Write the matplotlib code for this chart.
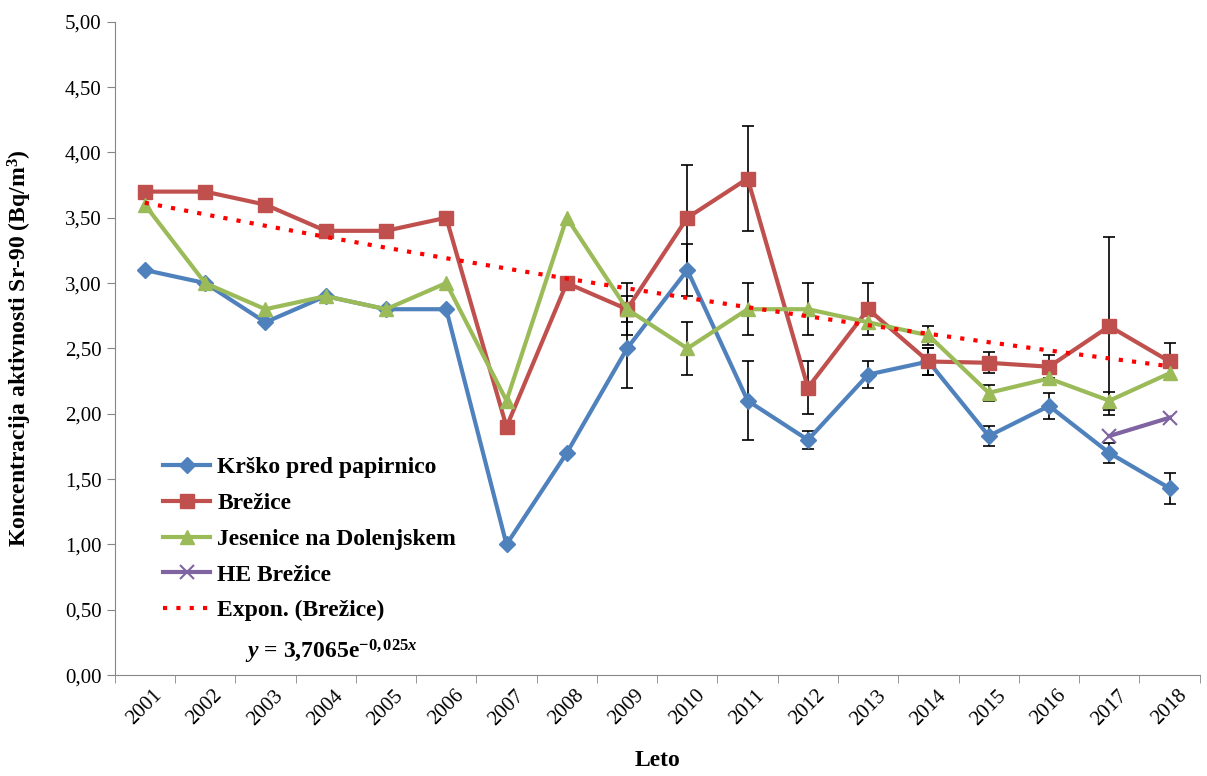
import numpy as np
import matplotlib.pyplot as plt
from matplotlib.ticker import FuncFormatter, FixedLocator

plt.rcParams['font.family'] = ['Liberation Serif', 'DejaVu Serif']
plt.rcParams['mathtext.fontset'] = 'custom'
plt.rcParams['mathtext.rm'] = 'Liberation Serif'
plt.rcParams['mathtext.it'] = 'Liberation Serif:italic'
plt.rcParams['mathtext.bf'] = 'Liberation Serif:bold'
plt.rcParams['mathtext.bfit'] = 'Liberation Serif:bold:italic'

years = [str(y) for y in range(2001, 2019)]
krsko = [3.1, 3.0, 2.7, 2.9, 2.8, 2.8, 1.0, 1.7, 2.5, 3.1, 2.1, 1.8, 2.3, 2.4, 1.83, 2.06, 1.70, 1.43]
brezice = [3.7, 3.7, 3.6, 3.4, 3.4, 3.5, 1.9, 3.0, 2.8, 3.5, 3.8, 2.2, 2.8, 2.4, 2.39, 2.36, 2.67, 2.40]
jesenice = [3.6, 3.0, 2.8, 2.9, 2.8, 3.0, 2.1, 3.5, 2.8, 2.5, 2.8, 2.8, 2.7, 2.6, 2.16, 2.27, 2.10, 2.31]
he_years = ['2017', '2018']
he_brezice = [1.83, 1.97]

nan = np.nan
krsko_err = [nan] * 8 + [0.3, 0.2, 0.3, 0.07, 0.1, 0.1, 0.08, 0.1, 0.08, 0.12]
brezice_err = [nan] * 8 + [0.1, 0.4, 0.4, 0.2, 0.2, 0.1, 0.08, 0.09, 0.68, 0.14]
jesenice_err = [nan] * 8 + [0.2, 0.2, 0.2, 0.2, 0.05, 0.07, 0.06, 0.05, 0.07, 0.05]

# exponential trend for Brežice
trend_a, trend_b = 3.7065, -0.025

fig, ax = plt.subplots(figsize=(12.07, 7.76), dpi=100)
fig.subplots_adjust(left=0.095, right=0.994, top=0.972, bottom=0.130)

x = np.arange(len(years))
blue, red, green, purple = '#4F81BD', '#C0504D', '#9BBB59', '#8064A2'

for vals, err in [(krsko, krsko_err), (brezice, brezice_err), (jesenice, jesenice_err)]:
    ax.errorbar(x, vals, yerr=err, fmt='none', ecolor='black', elinewidth=1.2,
                capsize=4, capthick=1.2, zorder=2)

ax.plot(x, krsko, color=blue, lw=3, marker='D', ms=8, label='Krško pred papirnico', zorder=3)
ax.plot(x, brezice, color=red, lw=3, marker='s', ms=10, label='Brežice', zorder=3)
ax.plot(x, jesenice, color=green, lw=3, marker='^', ms=10, label='Jesenice na Dolenjskem', zorder=3)
hx = [years.index(y) for y in he_years]
ax.plot(hx, he_brezice, color=purple, lw=3, marker='x', ms=10, mew=1.5, label='HE Brežice', zorder=3)

trend = trend_a * np.exp(trend_b * (x + 1))
ax.plot(x, trend, color='red', lw=3, ls=(0, (1, 2.2)), label='Expon. (Brežice)', zorder=4)

ax.set_xlim(-0.5, len(years) - 0.5)
ax.set_ylim(0, 5)
ax.set_yticks(np.arange(0, 5.01, 0.5))
ax.yaxis.set_major_formatter(FuncFormatter(lambda v, p: f'{v:.2f}'.replace('.', ',')))
ax.set_xticks(x)
ax.set_xticklabels(years, rotation=45, fontsize=15)
ax.tick_params(axis='x', length=0, pad=8)
ax.xaxis.set_minor_locator(FixedLocator(np.arange(-0.5, len(years), 1)))
ax.tick_params(axis='x', which='minor', length=6, color='#868686')
ax.tick_params(axis='y', labelsize=15, length=6, color='#868686')
for s in ['top', 'right']:
    ax.spines[s].set_visible(False)
for s in ['left', 'bottom']:
    ax.spines[s].set_color('#868686')

ax.set_xlabel('Leto', fontsize=17, fontweight='bold', labelpad=15)
ax.set_ylabel(r'Koncentracija aktivnosti Sr-90 (Bq/m$^{\mathbf{3}}$)', fontsize=17,
              fontweight='bold', labelpad=22)

leg = ax.legend(loc='lower left', bbox_to_anchor=(0.025, 0.05), frameon=False,
                prop={'weight': 'bold', 'size': 17}, handlelength=2.0, handletextpad=0.3,
                labelspacing=0.6)
ax.text(0.12, 0.025, r'$\mathbfit{y}$ = 3,7065e$^{\mathbf{-0,025}\mathbfit{x}}$', transform=ax.transAxes,
        fontsize=17, fontweight='bold')

plt.savefig('out.png', dpi=100)
